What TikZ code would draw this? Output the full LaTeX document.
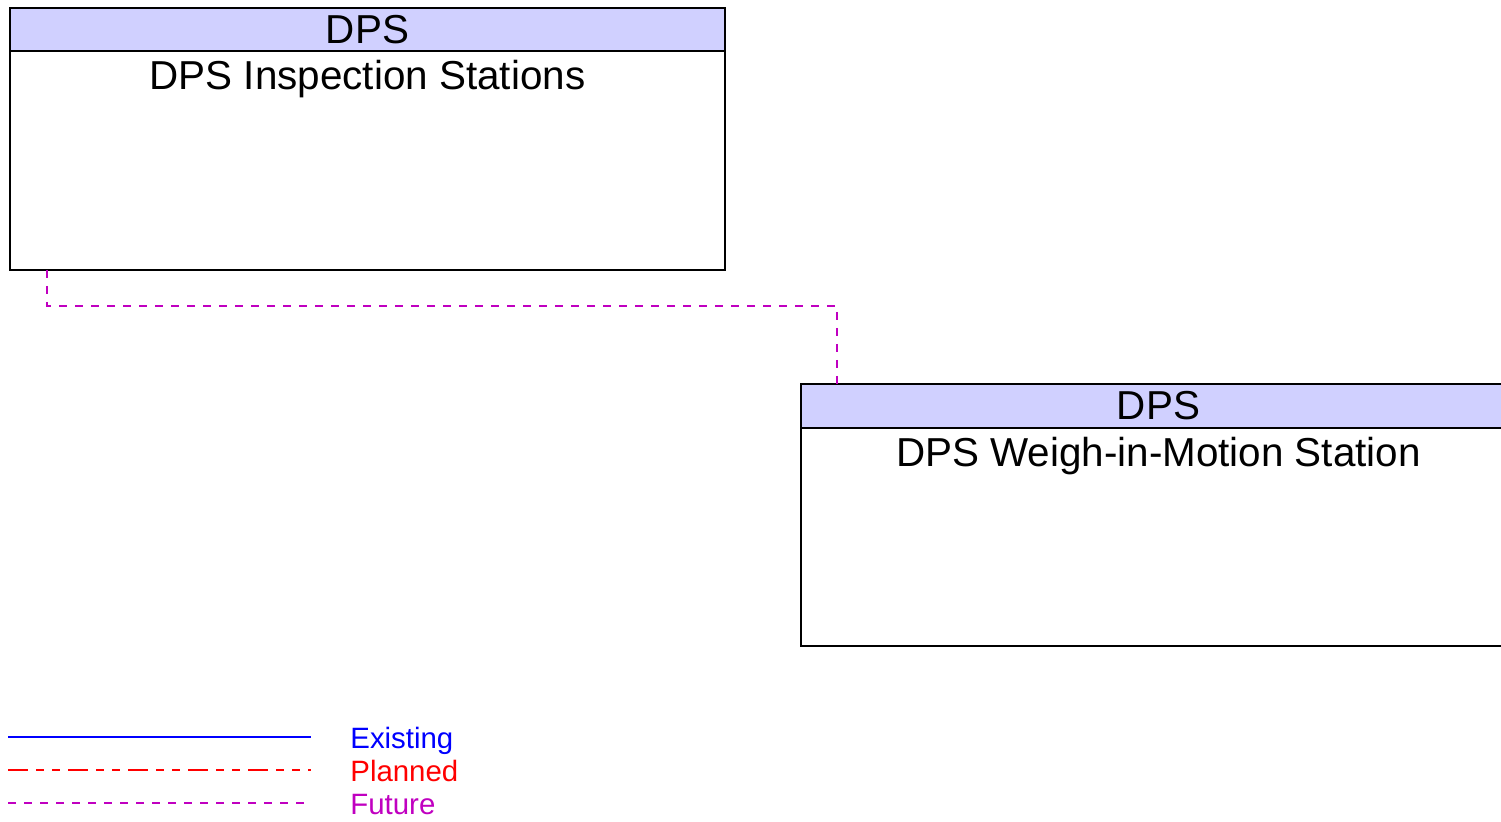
\documentclass[tikz,border=0pt]{standalone}
\usepackage{fontspec}
\setmainfont{Liberation Sans}
\usetikzlibrary{positioning,arrows.meta}
\definecolor{hdrfill}{RGB}{208,208,255}
\definecolor{futurecol}{RGB}{192,0,192}
\tikzset{
boxhdr/.style={
  draw=black,
  line width=0.75pt,
  fill=hdrfill,
  minimum width=357.5pt,
  minimum height=21.5pt,
  inner sep=0pt,
  outer sep=0pt,
  font=\fontsize{20.2}{24}\selectfont
  },
boxbody/.style={
  draw=black,
  line width=0.75pt,
  fill=white,
  minimum width=357.5pt,
  minimum height=109.5pt,
  inner sep=0pt,
  outer sep=0pt
  },
boxtitle/.style={
  anchor=base,
  inner sep=0pt,
  font=\fontsize{20.2}{24}\selectfont
  },
legtext/.style={
  anchor=base west,
  inner sep=0pt,
  font=\fontsize{14.7}{17}\selectfont
  },
existing/.style={draw=blue,line width=1.4pt},
planned/.style={draw=red,line width=0.6pt,
  dash pattern=on 10pt off 4pt on 4pt off 4pt on 4pt off 4pt},
future/.style={draw=futurecol,line width=0.6pt,dash pattern=on 4pt off 4pt}
}

\begin{document}
\begin{tikzpicture}[x=0.5pt,y=-0.5pt,>=latex]
\useasboundingbox (0,0) rectangle (1501,822);

% inspection stations
\node[boxhdr,anchor=north west] (inspHdr) at (10,8) {DPS};
\node[boxbody,below=0pt of inspHdr] (insp) {};
\node[boxtitle] (inspTitle) at ([yshift=-19.5pt]insp.north) {DPS Inspection Stations};

% weigh-in-motion
\node[boxhdr,anchor=north west,minimum height=22pt] (wimHdr) at (801,384) {DPS};
\node[boxbody,below=0pt of wimHdr,minimum height=109pt] (wim) {};
\node[boxtitle] (wimTitle) at ([yshift=-19.5pt]wim.north) {DPS Weigh-in-Motion Station};

\draw[future] ([xshift=18.5pt]insp.south west) -- ++(0,36) -| ([xshift=18pt]wimHdr.north west);

% legend
\node[legtext,text=blue] (legEx) at (350,749) {Existing};
\node[legtext,text=red] (legPl) at (350,782) {Planned};
\node[legtext,text=futurecol] (legFu) at (350,815) {Future};
\coordinate (exA) at (8,737);
\coordinate (exB) at (311,737);
\coordinate (plA) at (8,770);
\coordinate (plB) at (311,770);
\coordinate (fuA) at (8,803);
\coordinate (fuB) at (311,803);
\draw[existing] (exA) -- (exB);
\draw[planned] (plA) -- (plB);
\draw[future] (fuA) -- (fuB);

\end{tikzpicture}
\end{document}
